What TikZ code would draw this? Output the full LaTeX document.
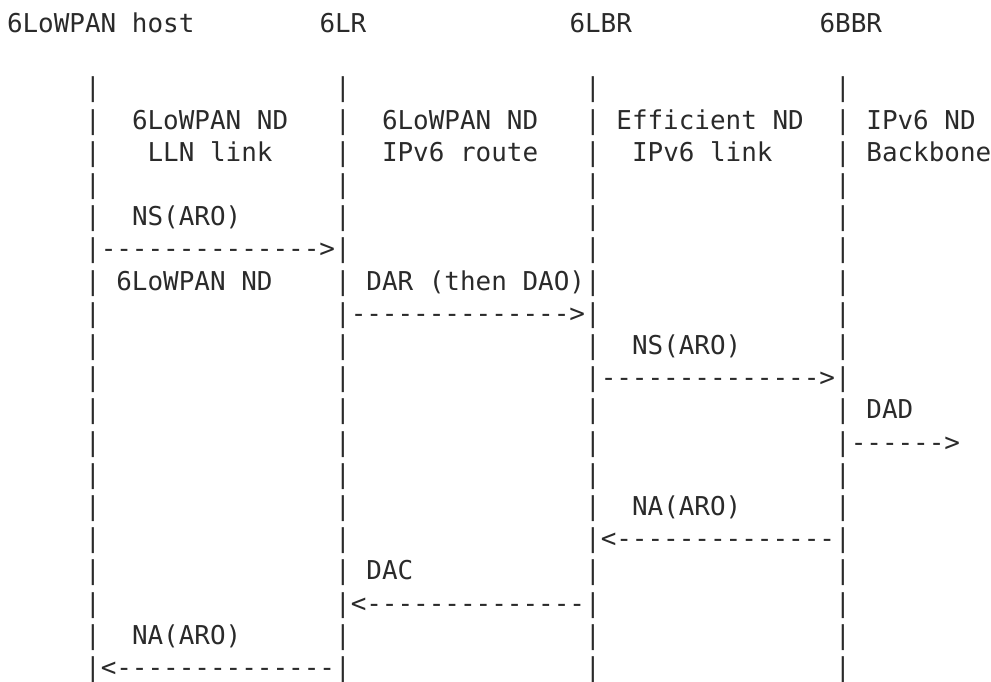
\documentclass[tikz,border=0pt]{standalone}
\usepackage{fontspec}
\setmonofont{DejaVu Sans Mono}
\definecolor{ink}{HTML}{2A2A2A}
\newcommand\asc[4]{\node[ascii] (#1) at ({7+#2*15.625},{32.5+#3*32.2}) {#4};}
\begin{document}
\begin{tikzpicture}[x=1pt,y=-1pt,
  ascii/.style={anchor=base west,inner sep=0pt,outer sep=0pt,text=ink,
    font=\ttfamily\fontsize{25.95}{32}\selectfont}]
\useasboundingbox (0,0) rectangle (991,681);
% header
\asc{host}{0}{0}{6LoWPAN host}
\asc{lr}{20}{0}{6LR}
\asc{lbr}{36}{0}{6LBR}
\asc{bbr}{52}{0}{6BBR}
% lifelines
\foreach \r in {2,...,20}{
  \foreach \c/\n in {5/a,21/b,37/c,53/d}{
    \node[ascii] (bar\n\r) at ({7+\c*15.625},{32.5+\r*32.2}) {|};
  }
}
% link descriptions
\asc{ha}{8}{3}{6LoWPAN ND}
\asc{hb}{9}{4}{LLN link}
\asc{ra}{24}{3}{6LoWPAN ND}
\asc{rb}{24}{4}{IPv6 route}
\asc{ba}{39}{3}{Efficient ND}
\asc{bb}{40}{4}{IPv6 link}
\asc{ka}{55}{3}{IPv6 ND}
\asc{kb}{55}{4}{Backbone}
% messages
\asc{m1}{8}{6}{NS(ARO)}
\asc{a1}{6}{7}{-------------->}
\asc{m1b}{7}{8}{6LoWPAN ND}
\asc{m2}{23}{8}{DAR (then DAO)}
\asc{a2}{22}{9}{-------------->}
\asc{m3}{40}{10}{NS(ARO)}
\asc{a3}{38}{11}{-------------->}
\asc{m4}{55}{12}{DAD}
\asc{a4}{54}{13}{------>}
\asc{m5}{40}{15}{NA(ARO)}
\asc{a5}{38}{16}{<-------------{}-}
\asc{m6}{23}{17}{DAC}
\asc{a6}{22}{18}{<-------------{}-}
\asc{m7}{8}{19}{NA(ARO)}
\asc{a7}{6}{20}{<-------------{}-}
\end{tikzpicture}
\end{document}
